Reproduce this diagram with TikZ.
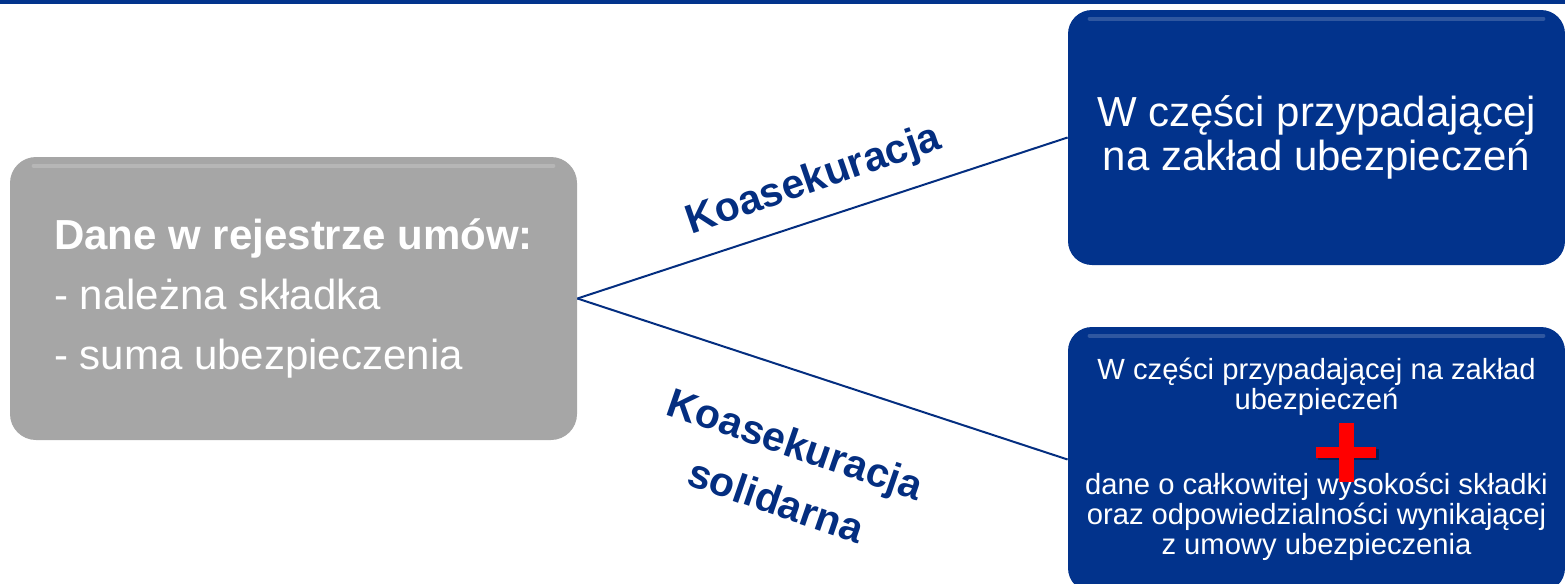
\documentclass[tikz,border=0pt]{standalone}
\usepackage{fontspec}
\setmainfont{Liberation Sans}
\definecolor{boxblue}{RGB}{2,51,140}
\definecolor{labelblue}{RGB}{4,46,128}
\definecolor{regGrey}{RGB}{166,166,166}

\tikzstyle{regbox}=[rounded corners=13pt,fill=regGrey,text=white,minimum width=283.5pt,minimum height=141.5pt,align=left,font=\fontsize{21}{30}\selectfont]
\tikzstyle{partbox}=[rounded corners=12pt,fill=boxblue,text=white,minimum width=248.5pt,align=center]
\tikzstyle{branchlabel}=[text=labelblue,font=\bfseries\fontsize{20.5}{30}\selectfont,align=center]
\tikzstyle{gloss}=[line width=2pt,line cap=round,white,opacity=0.18]

\begin{document}
\begin{tikzpicture}[x=0.5pt,y=-0.5pt]
  \path[use as bounding box,clip] (0,0) rectangle (1565,584);
  \fill[boxblue] (0,0) rectangle (1565,3.5);

  \node (reg) [regbox] at (293.5,298.5)
    {{\bfseries Dane w rejestrze umów:}\\- należna składka\\- suma ubezpieczenia};
  \node (share) [partbox,minimum height=127.5pt,font=\fontsize{21}{22}\selectfont] at (1316.5,137.5)
    {W części przypadającej\\na zakład ubezpieczeń};
  \node (joint) [partbox,minimum height=132.5pt,font=\fontsize{14.6}{15}\selectfont] at (1316.5,459.5)
    {W części przypadającej na zakład\\ubezpieczeń\\[27.5pt]dane o całkowitej wysokości składki\\oraz odpowiedzialności wynikającej\\z umowy ubezpieczenia};

  % light edge on top of the boxes
  \draw[gloss] ([shift={(24,9)}]reg.north west) -- ([shift={(-24,9)}]reg.north east);
  \draw[gloss] ([shift={(22,9)}]share.north west) -- ([shift={(-22,9)}]share.north east);
  \draw[gloss] ([shift={(22,9)}]joint.north west) -- ([shift={(-22,9)}]joint.north east);

  \path[draw,labelblue,line width=1pt]
  (reg.east) edge (share.west)
  (reg.east) edge (joint.west);

  \node (koas) [branchlabel,rotate=19] at (814,181) {Koasekuracja};
  \node (koassol) [branchlabel,rotate=-19] at (786,472) {Koasekuracja\\solidarna};

  % red plus
  \coordinate (plus) at (1346,452);
  \fill[black,opacity=0.35] ([shift={(-28,-3)}]plus) rectangle ([shift={(33,8)}]plus);
  \fill[red] ([shift={(-30,-5.5)}]plus) rectangle ([shift={(30,5.5)}]plus);
  \fill[red] ([shift={(-7.5,-29.5)}]plus) rectangle ([shift={(7.5,29.5)}]plus);
\end{tikzpicture}
\end{document}
